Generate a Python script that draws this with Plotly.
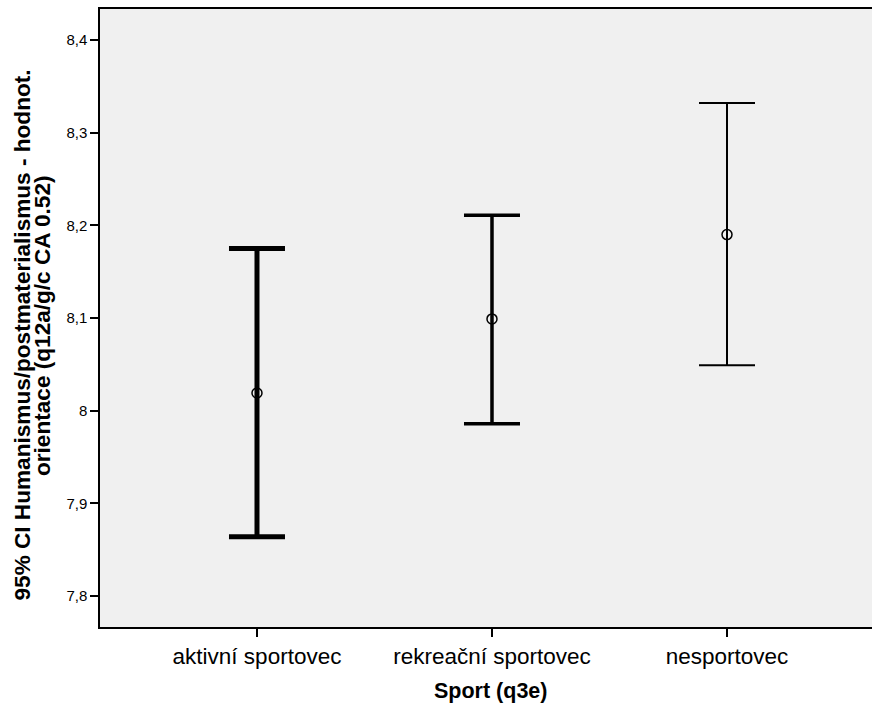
import plotly.graph_objects as go

categories = ["aktivní sportovec", "rekreační sportovec", "nesportovec"]
means = [8.019, 8.099, 8.190]
upper = [8.175, 8.211, 8.332]
lower = [7.864, 7.986, 8.049]
thickness = [5, 3.5, 2]
y_ticks = [7.8, 7.9, 8.0, 8.1, 8.2, 8.3, 8.4]

FONT = "Liberation Sans, Arial, sans-serif"
fig = go.Figure()
for i, cat in enumerate(categories):
    fig.add_trace(go.Scatter(
        x=[i], y=[means[i]], mode="markers",
        marker=dict(symbol="circle-open", size=10, color="black", line=dict(width=1.5, color="black")),
        error_y=dict(type="data", symmetric=False,
                     array=[upper[i] - means[i]], arrayminus=[means[i] - lower[i]],
                     color="black", thickness=thickness[i], width=28),
        showlegend=False, hoverinfo="skip"))

def px_x(p):
    return (p - 100) / 772

def px_y(p):
    return 1 - (p - 9) / 618

fig.update_layout(
    width=872, height=709,
    margin=dict(l=100, r=0, t=9, b=82),
    paper_bgcolor="white", plot_bgcolor="#f0f0f0",
    separators=",.",
    font=dict(family=FONT, color="black"),
    xaxis=dict(range=[-0.668, 2.617], tickvals=[0, 1, 2], ticktext=categories,
               showgrid=False, zeroline=False, showline=True, linecolor="black", linewidth=1.5,
               mirror=True, ticks="outside", ticklen=8, tickcolor="black", tickwidth=1.5,
               tickfont=dict(size=22.5, family=FONT, color="black")),
    yaxis=dict(range=[7.7665, 8.4335], tickvals=y_ticks,
               showgrid=False, zeroline=False, showline=True, linecolor="black", linewidth=1.5,
               ticks="outside", ticklen=8, tickcolor="black", tickwidth=1.5,
               tickfont=dict(size=15, family=FONT, color="black")),
    annotations=[
        dict(text="<b>95% CI Humanismus/postmaterialismus - hodnot.</b>",
             textangle=-90, xref="paper", yref="paper", x=px_x(22), y=px_y(335.5),
             xanchor="center", yanchor="middle", showarrow=False,
             font=dict(size=22.6, family=FONT, color="black")),
        dict(text="<b>orientace (q12a/g/c CA 0.52)</b>",
             textangle=-90, xref="paper", yref="paper", x=px_x(42), y=px_y(326),
             xanchor="center", yanchor="middle", showarrow=False,
             font=dict(size=22.6, family=FONT, color="black")),
        dict(text="<b>Sport (q3e)</b>", xref="paper", yref="paper",
             x=px_x(490), y=px_y(691), xanchor="center", yanchor="middle",
             showarrow=False, font=dict(size=21.5, family=FONT, color="black")),
    ],
)
fig.write_html("out.html")
